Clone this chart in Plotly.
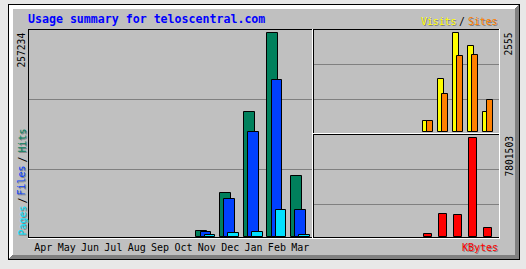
import plotly.graph_objects as go

W, H = 526, 269

# ---------------- data ----------------
months = ["Apr", "May", "Jun", "Jul", "Aug", "Sep", "Oct", "Nov", "Dec", "Jan", "Feb", "Mar"]
hits   = [None, None, None, None, None, None, None, 7577, 55184, 157470, 257234, 76650]
files  = [None, None, None, None, None, None, None, 5935, 47607, 132213, 197880, 33717]
pages  = [None, None, None, None, None, None, None, 2147, 4672, 5935, 33717, 2147]
visits = [None, None, None, None, None, None, None, 277, 1364, 2555, 2218, 510]
sites  = [None, None, None, None, None, None, None, 277, 976, 1960, 1993, 828]
kbytes = [None, None, None, None, None, None, None, 213000, 1794000, 1715000, 7801503, 688000]
max_hits, max_visits, max_kbytes = 257234, 2555, 7801503

# ---------------- helpers ----------------
def fx(px):
    return px / W

def fy(py):
    return 1 - py / H

FONT = "DejaVu Sans Mono"
C_HITS, C_FILES, C_PAGES = "#00805c", "#0040ff", "#00e0ff"
C_VISITS, C_SITES, C_KB = "#ffff00", "#ff8000", "#ff0000"
GREY, DKGREY = "#c0c0c0", "#808080"

idx = list(range(12))

# pixel geometry of the three plot boxes
MAIN_X = (28, 312); MAIN_Y = (237, 29)
VIS_X = (314, 494); VIS_Y = (132, 29)
KB_X = (314, 494);  KB_Y = (237, 134)
pu_main = (MAIN_X[1] - MAIN_X[0]) / 12.0
pu_r = (VIS_X[1] - VIS_X[0]) / 12.0

# month label positions (label pitch is slightly narrower than the bar pitch)
label_first_px, label_pitch_px = 43.3, 23.36
month_pos = [(label_first_px - MAIN_X[0] + i * label_pitch_px) / pu_main for i in idx]

fig = go.Figure()

def bar(y, color, off_px, w_px, pu, xa, ya):
    fig.add_trace(go.Bar(
        x=idx, y=y, offset=off_px / pu, width=w_px / pu,
        marker=dict(color=color, line=dict(color="black", width=1)),
        xaxis=xa, yaxis=ya, showlegend=False, hoverinfo="skip"))

bar(hits, C_HITS, 2.8, 10.7, pu_main, "x", "y")
bar(files, C_FILES, 6.9, 10.7, pu_main, "x", "y")
bar(pages, C_PAGES, 11.0, 10.7, pu_main, "x", "y")
bar(visits, C_VISITS, 3.8, 6.6, pu_r, "x2", "y2")
bar(sites, C_SITES, 7.5, 6.6, pu_r, "x2", "y2")
bar(kbytes, C_KB, 4.8, 8.5, pu_r, "x3", "y3")

# ---------------- decorations ----------------
shapes = []

def rect(x0, y0, x1, y1, color):
    shapes.append(dict(type="rect", xref="paper", yref="paper",
                       x0=fx(x0), x1=fx(x1), y0=fy(y1), y1=fy(y0),
                       fillcolor=color, line=dict(width=0), layer="below"))

def poly(pts, color):
    d = "M " + " L ".join(f"{fx(a):.6f},{fy(b):.6f}" for a, b in pts) + " Z"
    shapes.append(dict(type="path", xref="paper", yref="paper", path=d,
                       fillcolor=color, line=dict(width=0), layer="below"))

# outer frame with bevel
rect(8, 4, 520, 260, "black")
poly([(9, 5), (519, 5), (515, 9), (13, 9), (13, 255), (9, 259)], "white")
poly([(519, 5), (519, 259), (9, 259), (13, 255), (515, 255), (515, 9)], DKGREY)
rect(13, 9, 515, 255, GREY)

# main box
rect(28, 29, 312, 30, "black")
rect(28, 29, 29, 238, "black")
rect(28, 237, 312, 238, "black")
rect(28, 238, 313, 239, "white")
rect(312, 29, 313, 239, "white")
rect(29, 99, 312, 100, DKGREY)
rect(29, 169, 312, 170, DKGREY)

# visits / sites box
rect(313, 29, 499, 30, "black")
rect(313, 29, 314, 133, "black")
rect(313, 133, 500, 134, "white")
rect(499, 29, 500, 134, "white")
rect(314, 64, 499, 65, DKGREY)
rect(314, 99, 499, 100, DKGREY)

# kbytes box
rect(313, 134, 499, 135, "black")
rect(313, 134, 314, 238, "black")
rect(313, 237, 499, 238, "black")
rect(313, 238, 500, 239, "white")
rect(499, 134, 500, 239, "white")
rect(314, 169, 499, 170, DKGREY)
rect(314, 204, 499, 205, DKGREY)

# ---------------- text ----------------
ann = []

def text(t, x, y, color, size, xanchor="center", angle=0, bold=False, shadow=False):
    base = dict(text=t, xref="paper", yref="paper", x=fx(x), y=fy(y),
                xanchor=xanchor, yanchor="middle", showarrow=False,
                textangle=angle, borderpad=0,
                font=dict(family=FONT, size=size, color=color,
                          weight="bold" if bold else "normal"))
    if shadow:
        s = dict(base)
        s["font"] = dict(base["font"], color=DKGREY)
        s["xshift"] = 1
        s["yshift"] = -1
        ann.append(s)
    ann.append(base)

text("Usage summary for teloscentral.com", 27, 19, "#0000ff", 11.6, xanchor="left", bold=True)

text(str(max_hits), 21.5, 50, "black", 9.6, angle=-90)
text(str(max_visits), 508.5, 44, "black", 9.6, angle=-90)
text(str(max_kbytes), 508.5, 156, "black", 9.6, angle=-90)

text("Pages", 21.5, 221, C_PAGES, 10, angle=-90, shadow=True)
text("/", 21.5, 201, "black", 10, angle=-90)
text("Files", 21.5, 181, C_FILES, 10, angle=-90, shadow=True)
text("/", 21.5, 160, "black", 10, angle=-90)
text("Hits", 21.5, 141, C_HITS, 10, angle=-90, shadow=True)

text("Visits", 420, 21, C_VISITS, 9.8, xanchor="left", shadow=True)
text("/", 462, 21, "black", 9.8)
text("Sites", 498.5, 21, C_SITES, 9.8, xanchor="right", shadow=True)

text("KBytes", 498.5, 247, C_KB, 10, xanchor="right", shadow=True)

# ---------------- layout ----------------
hidden = dict(visible=False, fixedrange=True)

fig.update_layout(
    width=W, height=H, autosize=False,
    margin=dict(l=0, r=0, t=0, b=0, pad=0),
    paper_bgcolor="#e8e8e8", plot_bgcolor="rgba(0,0,0,0)",
    barmode="overlay", bargap=0,
    showlegend=False,
    shapes=shapes, annotations=ann,
    xaxis=dict(domain=[fx(MAIN_X[0]), fx(MAIN_X[1])], range=[0, 12],
               tickvals=month_pos, ticktext=months,
               ticks="", showgrid=False, zeroline=False, showline=False,
               ticklabelstandoff=3,
               tickfont=dict(family=FONT, size=10, color="black"),
               anchor="y", fixedrange=True),
    yaxis=dict(domain=[fy(MAIN_Y[0]), fy(MAIN_Y[1])],
               range=[0, max_hits * 208 / 203.7], anchor="x", **hidden),
    xaxis2=dict(domain=[fx(VIS_X[0]), fx(VIS_X[1])], range=[0, 12], anchor="y2", **hidden),
    yaxis2=dict(domain=[fy(VIS_Y[0]), fy(VIS_Y[1])],
                range=[0, max_visits * 103 / 98.7], anchor="x2", **hidden),
    xaxis3=dict(domain=[fx(KB_X[0]), fx(KB_X[1])], range=[0, 12], anchor="y3", **hidden),
    yaxis3=dict(domain=[fy(KB_Y[0]), fy(KB_Y[1])],
                range=[0, max_kbytes * 103 / 98.7], anchor="x3", **hidden),
)

fig.write_html("out.html", config={"displayModeBar": False})
